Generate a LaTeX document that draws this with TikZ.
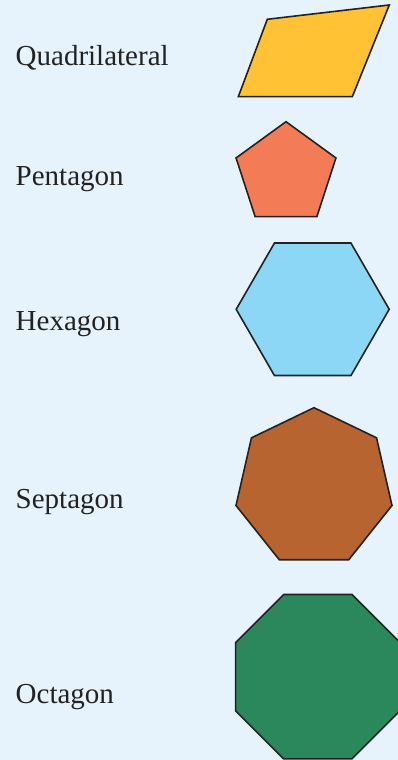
\documentclass[tikz,border=0pt]{standalone}
\usepackage{fontspec}
\setmainfont{Liberation Serif}
\usepackage{tikz}
\usetikzlibrary{calc}
\usepackage{xcolor}
\definecolor{paper}{RGB}{230,243,252}
\definecolor{ink}{RGB}{34,34,34}
\definecolor{amber}{RGB}{254,194,52}
\definecolor{salmon}{RGB}{243,124,87}
\definecolor{sky}{RGB}{140,215,245}
\definecolor{rust}{RGB}{184,100,48}
\definecolor{forest}{RGB}{42,136,92}
\begin{document}
\begin{tikzpicture}[x=1pt,y=1pt,font=\fontsize{29}{34}\selectfont,
  poly/.style={draw=ink,line width=1.6pt,line join=miter},
  shapename/.style={anchor=base west,text=ink,inner sep=0pt}]
\fill[paper] (0,0) rectangle (398,760);
\useasboundingbox (0,0) rectangle (398,760);
% labels
\node[shapename] (quadlabel) at (15.5,694) {Quadrilateral};
\node[shapename] (pentlabel) at (15.5,574) {Pentagon};
\node[shapename] (hexlabel) at (15.5,429) {Hexagon};
\node[shapename] (septlabel) at (15.5,251) {Septagon};
\node[shapename] (octlabel) at (15.5,56.5) {Octagon};
% shapes
\draw[poly,fill=amber] (267.3,740.7)--(389.3,755)--(352.3,663.3)--(238.3,663.3)--cycle;
\coordinate (pent) at (286,585.8);
\draw[poly,fill=salmon] (pent)+(90:52.5) \foreach \k in {1,...,4}{--+(90+72*\k:52.5)} --cycle;
\coordinate (hex) at (312.7,450.7);
\draw[poly,fill=sky] (hex)+(0:76.5) \foreach \k in {1,...,5}{--+(60*\k:76.5)} --cycle;
\coordinate (sept) at (314,272.3);
\draw[poly,fill=rust] (sept)+(90:80) \foreach \k in {1,...,6}{--+(90+360/7*\k:80)} --cycle;
\coordinate (oct) at (317.8,83.3);
\draw[poly,fill=forest] (oct)+(22.5:89) \foreach \k in {1,...,7}{--+(22.5+45*\k:89)} --cycle;
\end{tikzpicture}
\end{document}
